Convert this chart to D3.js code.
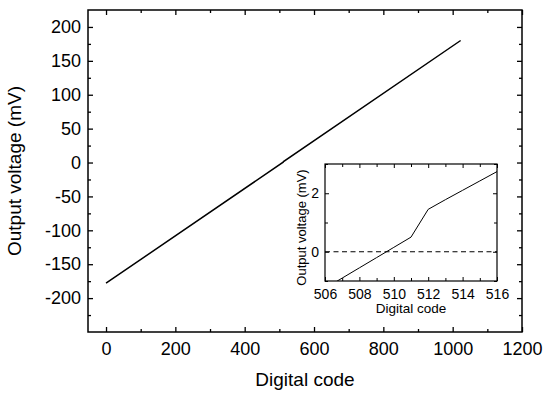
<!DOCTYPE html>
<html>
<head>
<meta charset="utf-8">
<script src="https://cdn.jsdelivr.net/npm/d3@7"></script>
<style>
  body { margin: 0; background: #fff; }
  text { font-family: "Liberation Sans", Arial, sans-serif; fill: #000; }
</style>
</head>
<body>
<div id="chart"></div>
<script>
// Main series: output voltage vs digital code
var codes = [0, 511, 512, 1023];
var voltages = [-178, 0.5, 1.45, 180];

// Inset series (zoom around mid-scale)
var insetCodes = [506, 507, 508, 509, 510, 511, 512, 513, 514, 515, 516];
var insetVoltages = [-1.25, -0.9, -0.55, -0.2, 0.15, 0.5, 1.45, 1.78, 2.1, 2.42, 2.74];

var xTicks = [0, 200, 400, 600, 800, 1000, 1200];
var yTicks = [-200, -150, -100, -50, 0, 50, 100, 150, 200];
var insetXTicks = [506, 508, 510, 512, 514, 516];
var insetYTicks = [0, 2];

var svgWidth = 550;
var svgHeight = 398;

var svg = d3.select("#chart")
    .append("svg")
    .attr("width", svgWidth)
    .attr("height", svgHeight);

// plain labels: hyphen minus, no thousands separator
var plain = function(d) { return String(d); };

// Draws a boxed frame with inward ticks on all four sides
function drawFrame(g, x, y, opts) {
    var w = x.range()[1] - x.range()[0];
    var h = y.range()[0] - y.range()[1];

    function style(sel) {
        sel.select(".domain").remove();
        sel.selectAll("line").attr("stroke", "#000").attr("stroke-width", opts.sw);
        sel.selectAll("text").attr("font-size", opts.fs);
    }

    // minor ticks
    g.append("g").attr("transform", `translate(0,${h})`)
        .call(d3.axisBottom(x).tickValues(opts.xMinor).tickSize(-opts.minor).tickFormat(""))
        .call(style);
    g.append("g")
        .call(d3.axisTop(x).tickValues(opts.xMinor).tickSize(-opts.minor).tickFormat(""))
        .call(style);
    g.append("g")
        .call(d3.axisLeft(y).tickValues(opts.yMinor).tickSize(-opts.minor).tickFormat(""))
        .call(style);
    g.append("g").attr("transform", `translate(${w},0)`)
        .call(d3.axisRight(y).tickValues(opts.yMinor).tickSize(-opts.minor).tickFormat(""))
        .call(style);

    // major ticks with labels on bottom and left
    g.append("g").attr("transform", `translate(0,${h})`)
        .call(d3.axisBottom(x).tickValues(opts.xTicks).tickSize(-opts.major)
            .tickPadding(opts.major + opts.xPad).tickFormat(plain))
        .call(style);
    g.append("g")
        .call(d3.axisTop(x).tickValues(opts.xTicks).tickSize(-opts.major).tickFormat(""))
        .call(style);
    g.append("g")
        .call(d3.axisLeft(y).tickValues(opts.yTicks).tickSize(-opts.major)
            .tickPadding(opts.major + opts.yPad).tickFormat(plain))
        .call(style);
    g.append("g").attr("transform", `translate(${w},0)`)
        .call(d3.axisRight(y).tickValues(opts.yTicks).tickSize(-opts.major).tickFormat(""))
        .call(style);

    g.append("rect")
        .attr("width", w)
        .attr("height", h)
        .attr("fill", "none")
        .attr("stroke", "#000")
        .attr("stroke-width", opts.frame);
}

// ---- main chart ----
var margin = { top: 10, left: 88, right: 28, bottom: 66 };
var chartWidth = svgWidth - margin.left - margin.right;
var chartHeight = svgHeight - margin.top - margin.bottom;

var chartGroup = svg.append("g")
    .attr("transform", `translate(${margin.left}, ${margin.top})`);

var xScale = d3.scaleLinear().domain([-52, 1200]).range([0, chartWidth]);
var yScale = d3.scaleLinear().domain([-250, 225]).range([chartHeight, 0]);

drawFrame(chartGroup, xScale, yScale, {
    xTicks: xTicks,
    yTicks: yTicks,
    xMinor: d3.range(100, 1200, 200),
    yMinor: d3.range(-225, 225, 50),
    major: 5, minor: 3, sw: 1.3, frame: 1.5, fs: 18, xPad: 5, yPad: 2
});

var mainLine = d3.line()
    .x(function(d, i) { return xScale(codes[i]); })
    .y(function(d, i) { return yScale(voltages[i]); });

chartGroup.append("path")
    .datum(codes)
    .attr("d", mainLine)
    .attr("fill", "none")
    .attr("stroke", "#000")
    .attr("stroke-width", 1.5);

chartGroup.append("text")
    .attr("x", chartWidth / 2)
    .attr("y", chartHeight + 54)
    .attr("text-anchor", "middle")
    .attr("font-size", 19)
    .text("Digital code");

chartGroup.append("text")
    .attr("transform", `translate(${-67}, ${chartHeight / 2}) rotate(-90)`)
    .attr("text-anchor", "middle")
    .attr("font-size", 19)
    .text("Output voltage (mV)");

// ---- inset ----
var inset = { left: 325, top: 164, width: 172, height: 117 };

var insetGroup = svg.append("g")
    .attr("transform", `translate(${inset.left}, ${inset.top})`);

var ix = d3.scaleLinear().domain([506, 516]).range([0, inset.width]);
var iy = d3.scaleLinear().domain([-1, 3]).range([inset.height, 0]);

svg.append("clipPath").attr("id", "insetClip")
    .append("rect").attr("width", inset.width).attr("height", inset.height);

insetGroup.append("line")
    .attr("x1", 0).attr("x2", inset.width)
    .attr("y1", iy(0)).attr("y2", iy(0))
    .attr("stroke", "#000")
    .attr("stroke-width", 1.2)
    .attr("stroke-dasharray", "5,3.5");

var insetLine = d3.line()
    .x(function(d, i) { return ix(insetCodes[i]); })
    .y(function(d, i) { return iy(insetVoltages[i]); });

insetGroup.append("path")
    .datum(insetCodes)
    .attr("d", insetLine)
    .attr("clip-path", "url(#insetClip)")
    .attr("fill", "none")
    .attr("stroke", "#000")
    .attr("stroke-width", 1);

drawFrame(insetGroup, ix, iy, {
    xTicks: insetXTicks,
    yTicks: insetYTicks,
    xMinor: d3.range(507, 516, 2),
    yMinor: [-1, 1, 3],
    major: 4, minor: 3, sw: 1, frame: 1.2, fs: 14, xPad: 4, yPad: 2
});

insetGroup.append("text")
    .attr("x", inset.width / 2)
    .attr("y", inset.height + 32)
    .attr("text-anchor", "middle")
    .attr("font-size", 13.5)
    .text("Digital code");

insetGroup.append("text")
    .attr("transform", `translate(${-19}, ${inset.height / 2 + 5}) rotate(-90)`)
    .attr("text-anchor", "middle")
    .attr("font-size", 13)
    .text("Output voltage (mV)");
</script>
</body>
</html>
